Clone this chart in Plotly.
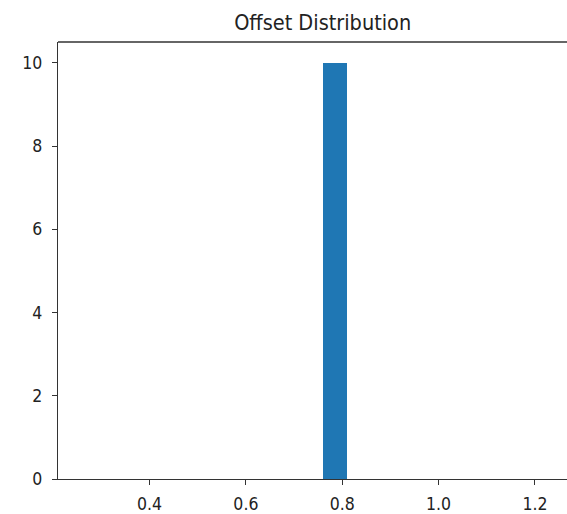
import numpy as np
import plotly.graph_objects as go

# Offsets observed across the runs
offsets = [0.76, 0.76, 0.76, 0.76, 0.76, 0.76, 0.76, 0.76, 0.76, 0.76]
n_bins = 20

counts, edges = np.histogram(offsets, bins=n_bins)
centers = (edges[:-1] + edges[1:]) / 2
widths = np.diff(edges)

fig = go.Figure(
    go.Bar(
        x=centers,
        y=counts,
        width=widths,
        marker=dict(color="#1f77b4", line=dict(width=0)),
        showlegend=False,
    )
)

font_family = "DejaVu Sans Condensed, DejaVu Sans, sans-serif"

fig.update_layout(
    width=567,
    height=514,
    margin=dict(l=58, r=0, t=42, b=33),
    plot_bgcolor="white",
    paper_bgcolor="white",
    font=dict(family=font_family, size=17.5, color="#222222"),
    title=dict(
        text="Offset Distribution",
        x=0.52,
        xref="paper",
        xanchor="center",
        y=1 - 22 / 514,
        yanchor="middle",
        font=dict(family=font_family, size=21.5, color="#222222"),
    ),
    bargap=0,
)

fig.update_xaxes(
    range=[0.21, 1.2665],
    tickvals=[0.4, 0.6, 0.8, 1.0, 1.2],
    ticktext=["0.4", "0.6", "0.8", "1.0", "1.2"],
    showgrid=False,
    zeroline=False,
    showline=True,
    linecolor="#333333",
    linewidth=1.4,
    ticks="outside",
    ticklen=5,
    tickcolor="#333333",
    tickwidth=1.3,
    ticklabelstandoff=4,
)
fig.update_yaxes(
    range=[0, 10.5],
    tickvals=[0, 2, 4, 6, 8, 10],
    showgrid=False,
    zeroline=False,
    showline=True,
    linecolor="#333333",
    linewidth=1.4,
    ticks="outside",
    ticklen=5,
    tickcolor="#333333",
    tickwidth=1.3,
    ticklabelstandoff=6,
)

# top spine
fig.add_shape(
    type="line", xref="paper", yref="paper",
    x0=0, x1=1, y0=1, y1=1,
    line=dict(color="#333333", width=1.4),
)

fig.write_html("out.html")
